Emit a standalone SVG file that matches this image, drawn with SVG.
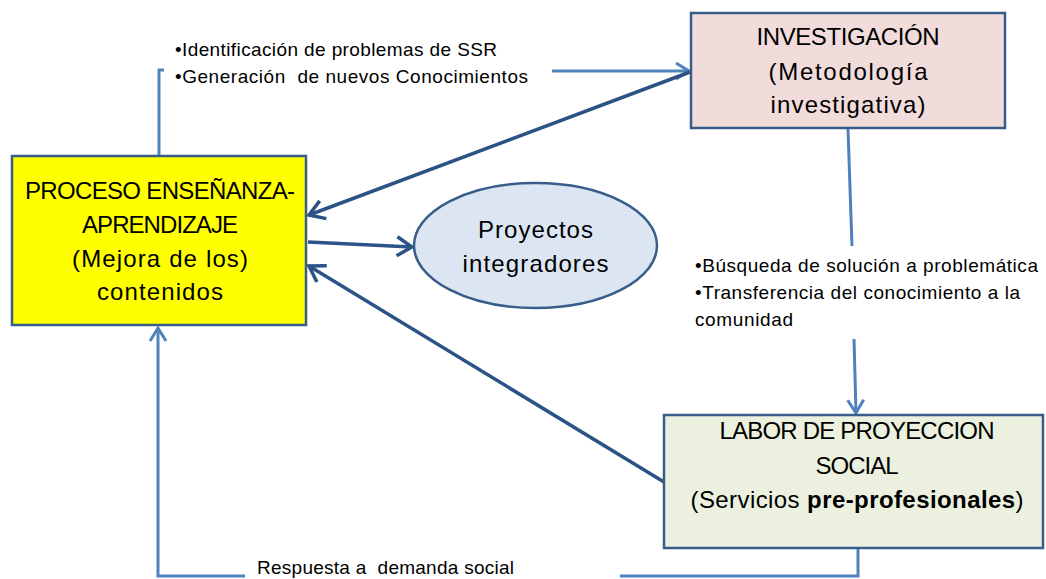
<svg xmlns="http://www.w3.org/2000/svg" width="1046" height="579" viewBox="0 0 1046 579">
<style>
.box{stroke:#385D8A;stroke-width:2.5}
.lbl{font-family:"Liberation Sans",Arial,sans-serif;font-size:24px;fill:#000;text-anchor:middle}
.note{font-family:"Liberation Sans",Arial,sans-serif;font-size:19px;fill:#000;white-space:pre}
.lt{fill:none;stroke:#4F81BD;stroke-width:3}
.dk{fill:none;stroke:#2C5386;stroke-width:3.5}
</style>
<defs>
<marker id="arrL" viewBox="0 0 20 20" markerUnits="userSpaceOnUse" markerWidth="20" markerHeight="20" refX="17" refY="10" orient="auto">
<path d="M4,2 L17,10 L4,18" fill="none" stroke="#4F81BD" stroke-width="3"/>
</marker>
<marker id="arrD" viewBox="0 0 22 22" markerUnits="userSpaceOnUse" markerWidth="22" markerHeight="22" refX="19" refY="11" orient="auto">
<path d="M4,1.5 L19,11 L4,20.5" fill="none" stroke="#2C5386" stroke-width="3.5"/>
</marker>
</defs>
<rect width="1046" height="579" fill="#fff"/>
<g id="connectors">
<polyline class="lt" points="159,156 159,70 164,70"/>
<line class="lt" x1="552" y1="71" x2="689" y2="71" marker-end="url(#arrL)"/>
<line class="lt" x1="848" y1="129" x2="852" y2="246"/>
<line class="lt" x1="854" y1="339" x2="856" y2="413" marker-end="url(#arrL)"/>
<polyline class="lt" points="858,549 858,576 620,576"/>
<polyline class="lt" points="245,576 158,576 158,328" marker-end="url(#arrL)"/>
<line class="dk" x1="690" y1="72" x2="309" y2="215" marker-end="url(#arrD)"/>
<line class="dk" x1="308" y1="242" x2="412" y2="247" marker-end="url(#arrD)"/>
<line class="dk" x1="664" y1="482" x2="309" y2="266" marker-end="url(#arrD)"/>
</g>
<g id="notes">
<text class="note" x="175" y="56" textLength="322" lengthAdjust="spacing">•Identificación de problemas de SSR</text>
<text class="note" x="175" y="83" textLength="353" lengthAdjust="spacing">•Generación  de nuevos Conocimientos</text>
<text class="note" x="695" y="272" textLength="343" lengthAdjust="spacing">•Búsqueda de solución a problemática</text>
<text class="note" x="695" y="299" textLength="325" lengthAdjust="spacing">•Transferencia del conocimiento a la</text>
<text class="note" x="695" y="326" textLength="98" lengthAdjust="spacing">comunidad</text>
<text class="note" x="257" y="574" textLength="257" lengthAdjust="spacing">Respuesta a  demanda social</text>
</g>
<g id="proceso">
<rect class="box" x="12" y="156" width="294" height="169" fill="#FFFF00"/>
<text class="lbl" x="160" y="199" textLength="270" lengthAdjust="spacing">PROCESO ENSEÑANZA-</text>
<text class="lbl" x="160" y="233" textLength="156" lengthAdjust="spacing">APRENDIZAJE</text>
<text class="lbl" x="160" y="267" textLength="176" lengthAdjust="spacing">(Mejora de los)</text>
<text class="lbl" x="160" y="300" textLength="126" lengthAdjust="spacing">contenidos</text>
</g>
<g id="investigacion">
<rect class="box" x="691" y="13" width="314" height="115" fill="#F2DCDB"/>
<text class="lbl" x="848" y="45" textLength="183" lengthAdjust="spacing">INVESTIGACIÓN</text>
<text class="lbl" x="848" y="80" textLength="159" lengthAdjust="spacing">(Metodología</text>
<text class="lbl" x="848" y="113" textLength="155" lengthAdjust="spacing">investigativa)</text>
</g>
<g id="proyectos">
<ellipse class="box" cx="535.5" cy="245.5" rx="121.5" ry="62.5" fill="#DCE6F2"/>
<text class="lbl" x="535.5" y="238" textLength="115" lengthAdjust="spacing">Proyectos</text>
<text class="lbl" x="535.5" y="272" textLength="146" lengthAdjust="spacing">integradores</text>
</g>
<g id="labor">
<rect class="box" x="664" y="415" width="379" height="133" fill="#EBF1DE"/>
<text class="lbl" x="857" y="439" textLength="275" lengthAdjust="spacing">LABOR DE PROYECCION</text>
<text class="lbl" x="857" y="474" textLength="83" lengthAdjust="spacing">SOCIAL</text>
<text class="lbl" x="857" y="508" textLength="333" lengthAdjust="spacing">(Servicios <tspan font-weight="bold">pre-profesionales</tspan>)</text>
</g>
</svg>
